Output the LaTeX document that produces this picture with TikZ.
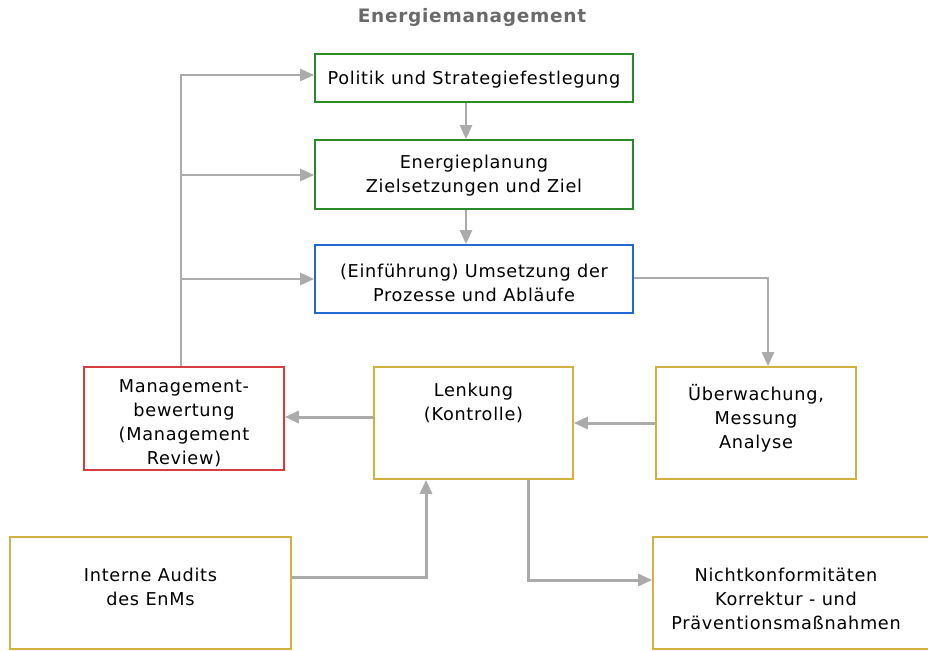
\documentclass[tikz,border=0pt]{standalone}
\usepackage{fontspec}
\setmainfont{DejaVu Sans}[LetterSpace=4]
\usetikzlibrary{arrows.meta}
\definecolor{linegray}{HTML}{ABABAB}
\definecolor{boxgreen}{HTML}{2A8A2A}
\definecolor{boxblue}{HTML}{2468D2}
\definecolor{boxred}{HTML}{D83C3C}
\definecolor{boxgold}{HTML}{D4B040}
\definecolor{titlegray}{HTML}{6A6A6A}
\begin{document}
\begin{tikzpicture}[x=1pt,y=-1pt,
  box/.style={draw, line width=1.6pt, fill=white, inner sep=0pt, align=center,
    font=\fontsize{17.7}{24}\selectfont},
  conn/.style={draw=linegray, line width=2.3pt,
    -{Triangle[length=14pt,width=12pt]}},
  heavy/.style={line width=3pt},
  txt/.style={inner sep=0pt, align=center, font=\fontsize{17.7}{24}\selectfont}]
\useasboundingbox (0,0) rectangle (928,650);

% title
\node[font=\bfseries\fontsize{18.5}{20}\selectfont, text=titlegray] (title) at (472,17) {Energiemanagement};

% planning chain
\node[box, draw=boxgreen, minimum width=318, minimum height=48] (pol) at (474,78) {};
\node[txt] (poltext) at (474,79.5) {Politik und Strategiefestlegung};
\node[box, draw=boxgreen, minimum width=318, minimum height=69] (plan) at (474,174.5) {};
\node[txt] (plantext) at (474,176) {Energieplanung\\Zielsetzungen und Ziel};
\node[box, draw=boxblue, minimum width=318, minimum height=68] (umset) at (474,279) {};
\node[txt] (umsettext) at (474,283) {(Einführung) Umsetzung der\\Prozesse und Abläufe};

% review / control row
\node[box, draw=boxred, minimum width=200, minimum height=103] (mgmt) at (184,418.5) {};
\node[txt] (mgmttext) at (184,423.5) {Management-\\bewertung\\(Management\\Review)};
\node[box, draw=boxgold, minimum width=199, minimum height=112] (lenk) at (473.5,423) {};
\node[txt] (lenktext) at (473.5,402.5) {Lenkung\\(Kontrolle)};
\node[box, draw=boxgold, minimum width=200, minimum height=112] (ueber) at (756,423) {};
\node[txt] (uebertext) at (756,418) {Überwachung,\\Messung\\Analyse};

% bottom row
\node[box, draw=boxgold, minimum width=281, minimum height=112] (audit) at (150.5,593) {};
\node[txt] (audittext) at (150.5,587) {Interne Audits\\des EnMs};
\node[box, draw=boxgold, minimum width=279, minimum height=112] (nicht) at (792.5,593) {};
\node[txt] (nichttext) at (786,598.5) {Nichtkonformitäten\\Korrektur - und\\Präventionsmaßnahmen};

% routing points
\coordinate (colA) at (466,0);
\coordinate (turnU) at (768,278);
\coordinate (sp1) at (181,75);
\coordinate (sp2) at (181,175);
\coordinate (sp3) at (181,279);
\coordinate (ax) at (426,577);
\coordinate (bx) at (528,580);

% connectors
\draw[conn] (pol.south -| colA) -- (plan.north -| colA);
\draw[conn] (plan.south -| colA) -- (umset.north -| colA);
\draw[conn] (umset.east |- turnU) -- (turnU) -- (ueber.north -| turnU);
\draw[conn, heavy] (ueber.west) -- (lenk.east |- ueber.west);
\draw[conn, heavy] ([yshift=6pt]lenk.west) -- ([yshift=6pt]lenk.west -| mgmt.east);
\draw[conn] (mgmt.north -| sp1) -- (sp1) -- (sp1 -| pol.west);
\draw[conn] (sp2) -- (sp2 -| plan.west);
\draw[conn] (sp3) -- (sp3 -| umset.west);
\draw[conn, heavy] (audit.east |- ax) -- (ax) -- (ax |- lenk.south);
\draw[conn, heavy] (bx |- lenk.south) -- (bx) -- (bx -| nicht.west);
\end{tikzpicture}
\end{document}
